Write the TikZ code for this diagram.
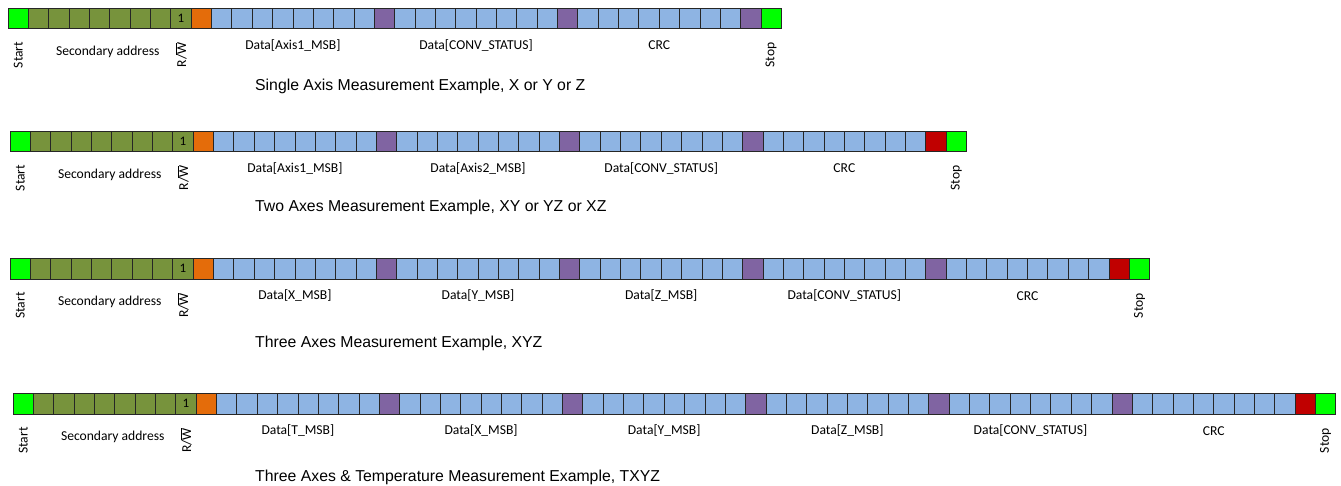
\documentclass[tikz,border=0pt]{standalone}
\usepackage{fontspec}
\setmainfont{Carlito}
\newfontfamily\capfont{Liberation Sans}
\usetikzlibrary{positioning}

\definecolor{startgreen}{HTML}{00FF00}
\definecolor{addrgreen}{HTML}{77933C}
\definecolor{ackorange}{HTML}{E46C0A}
\definecolor{datablue}{HTML}{8EB4E3}
\definecolor{ackpurple}{HTML}{8064A2}
\definecolor{nackred}{HTML}{C00000}

\tikzset{
  bit/.style={draw=black!85, line width=0.8pt, minimum width=20.35pt, minimum height=20.5pt,
    inner sep=0pt, outer sep=0pt, anchor=north west, font=\fontsize{13}{15}\selectfont},
  lbl/.style={font=\fontsize{13.6}{16}\selectfont, inner sep=0pt},
  vlbl/.style={lbl, rotate=90},
  caption/.style={font=\capfont\fontsize{15.8}{18}\selectfont, anchor=west, inner sep=0pt}
}

% one frame: #1 name, #2 left x, #3 top y, #4 data fields, #5 colour of the last bit
\newcommand{\bitrow}[5]{%
  \pgfmathtruncatemacro\npurple{#4-1}
  \node[bit, fill=startgreen] (#1s) at (#2,#3) {};
  \foreach \i in {1,...,7}
    \node[bit, fill=addrgreen] (#1a\i) at ({#2+\i*20.35},#3) {};
  \node[bit, fill=addrgreen] (#1rw) at ({#2+8*20.35},#3) {1};
  \node[bit, fill=ackorange] (#1ack) at ({#2+9*20.35},#3) {};
  \foreach \k in {1,...,#4}
    \foreach \j in {0,...,7}
      \node[bit, fill=datablue] (#1d\k-\j) at ({#2+(10+9*(\k-1)+\j)*20.35},#3) {};
  \foreach \k in {1,...,\npurple}
    \node[bit, fill=ackpurple] (#1p\k) at ({#2+(18+9*(\k-1))*20.35},#3) {};
  \node[bit, fill=#5] (#1last) at ({#2+(9+9*#4)*20.35},#3) {};
  \node[bit, fill=startgreen] (#1e) at ({#2+(10+9*#4)*20.35},#3) {};
  % labels under the bits
  \node[vlbl] (#1start) at ([yshift=-26.5pt]#1s.south) {Start};
  \node[lbl] (#1addr) at ([xshift=-2pt,yshift=-23pt]#1a4.south east) {Secondary address};
  \node[vlbl] (#1rwl) at ([yshift=-26.5pt]#1rw.south) {R/$\overline{\mbox{W}}$};
  \node[vlbl] (#1stop) at ([yshift=-26.5pt]#1e.south) {Stop};
}

\begin{document}
\begin{tikzpicture}[x=1pt, y=-1pt]
  \useasboundingbox (0,0) rectangle (1341,485);
  % Single axis
  \bitrow{r1}{8}{8}{3}{ackpurple}
  \foreach \t [count=\k] in {{Data[Axis1\_MSB]}, {Data[CONV\_STATUS]}, CRC}
    \node[lbl] (r1l\k) at ([yshift=-17pt]r1d\k-3.south east) {\t};
  \node[caption] (r1cap) at (255,86) {Single Axis Measurement Example, X or Y or Z};
  % Two axes
  \bitrow{r2}{10}{131}{4}{nackred}
  \foreach \t [count=\k] in {{Data[Axis1\_MSB]}, {Data[Axis2\_MSB]}, {Data[CONV\_STATUS]}, CRC}
    \node[lbl] (r2l\k) at ([yshift=-17pt]r2d\k-3.south east) {\t};
  \node[caption] (r2cap) at (255,207) {Two Axes Measurement Example, XY or YZ or XZ};
  % Three axes
  \bitrow{r3}{10}{258.5}{5}{nackred}
  \foreach \t [count=\k] in {{Data[X\_MSB]}, {Data[Y\_MSB]}, {Data[Z\_MSB]}, {Data[CONV\_STATUS]}, CRC}
    \node[lbl] (r3l\k) at ([yshift=-17pt]r3d\k-3.south east) {\t};
  \node[caption] (r3cap) at (255,343) {Three Axes Measurement Example, XYZ};
  % Three axes and temperature
  \bitrow{r4}{13}{393.5}{6}{nackred}
  \foreach \t [count=\k] in {{Data[T\_MSB]}, {Data[X\_MSB]}, {Data[Y\_MSB]}, {Data[Z\_MSB]}, {Data[CONV\_STATUS]}, CRC}
    \node[lbl] (r4l\k) at ([yshift=-17pt]r4d\k-3.south east) {\t};
  \node[caption] (r4cap) at (255,477) {Three Axes \& Temperature Measurement Example, TXYZ};
\end{tikzpicture}
\end{document}
